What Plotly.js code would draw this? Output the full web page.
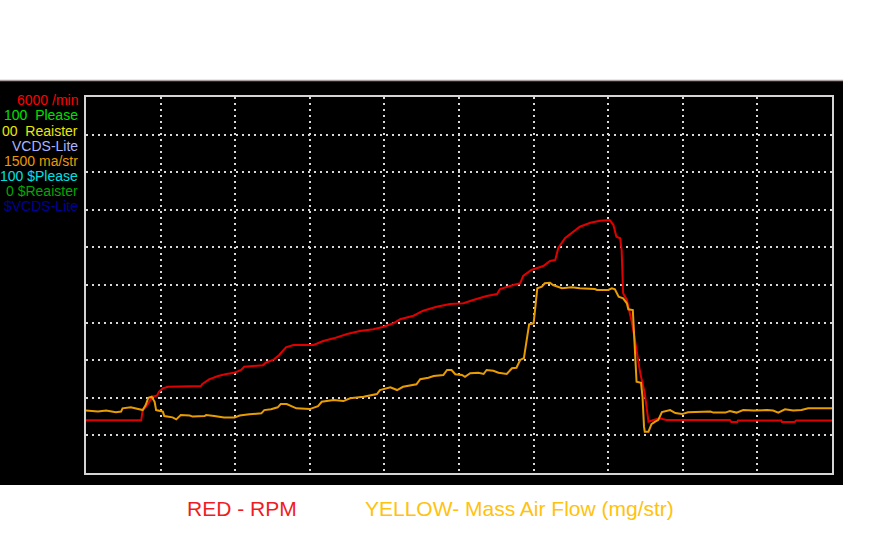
<!DOCTYPE html>
<html>
<head>
<meta charset="utf-8">
<script src="https://cdn.plot.ly/plotly-3.0.1.min.js"></script>
<style>
  html, body { margin: 0; padding: 0; background: #ffffff; }
  #chart { width: 890px; height: 548px; }
</style>
</head>
<body>
<div id="chart"></div>
<script>

// time axis in tenths of a division (0..100 across the window)
const rpmTime = [0, 7.4, 7.6, 8.0, 8.5, 8.9, 9.5, 9.8, 10.3, 11.0, 15.4, 15.6, 16.5, 17.7, 18.8, 19.9,
  20.8, 21.2, 23.7, 24.1, 25.2, 25.9, 26.8, 27.8, 30.5, 31.8, 33.2, 35.0, 36.7, 38.5, 39.9,
  41.2, 42.1, 43.9, 45.2, 47.0, 48.8, 50.6, 51.9, 53.7, 55.1, 55.5, 57.3, 58.2, 58.6, 59.7,
  61.3, 62.2, 62.9, 63.3, 64.2, 65.1, 66.2, 67.6, 68.9, 70.2, 70.7, 71.1, 71.6, 71.8, 72.0,
  72.5, 73.2, 73.8, 74.3, 74.9, 75.4, 76.1, 76.9, 77.8, 86.3, 86.5, 87.3, 87.4, 93.2, 93.3,
  95.0, 95.2, 100];
const rpmValues = [840, 840, 1005, 1053, 1138, 1218, 1233, 1297, 1352, 1377, 1388, 1420, 1495, 1548, 1580, 1600,
  1644, 1696, 1719, 1760, 1814, 1883, 2006, 2042, 2042, 2106, 2149, 2218, 2266, 2293, 2334,
  2389, 2453, 2510, 2590, 2654, 2697, 2708, 2761, 2824, 2856, 2936, 3000, 3027, 3144, 3239,
  3303, 3383, 3399, 3586, 3745, 3825, 3930, 3994, 4026, 4037, 3957, 3771, 3745, 3558, 2867,
  2761, 2389, 1963, 1591, 1272, 819, 846, 873, 846, 846, 814, 814, 838, 838, 814,
  814, 838, 838];

const mafTime = [0, 1.6, 2.7, 4.0, 4.7, 4.9, 6.0, 7.1, 7.6, 8.0, 8.35, 8.8, 9.2, 9.4, 10.3, 10.5,
  11.6, 12.1, 12.7, 13.9, 14.3, 15.9, 16.1, 17.2, 18.5, 19.9, 20.6, 21.9, 23.5, 23.9, 24.8,
  25.7, 26.1, 26.9, 28.2, 30.0, 31.1, 31.6, 33.2, 34.5, 35.4, 37.2, 39.0, 39.4, 40.8, 41.7,
  42.5, 44.3, 44.8, 45.9, 46.6, 47.9, 48.4, 49.0, 49.5, 50.4, 50.8, 51.5, 52.6, 53.3, 53.7,
  54.6, 55.3, 56.4, 57.1, 57.7, 58.2, 58.7, 59.1, 59.4, 60.0, 60.2, 60.5, 61.1, 61.5, 62.2,
  62.6, 63.8, 65.1, 66.2, 68.2, 68.5, 70.0, 70.5, 70.9, 71.4, 72.0, 72.5, 72.7, 73.3, 73.4,
  73.6, 73.8, 74.4, 74.6, 74.8, 74.9, 75.4, 75.8, 76.3, 76.7, 77.2, 78.3, 79.0, 79.9, 80.7,
  83.7, 84.1, 85.7, 86.3, 87.2, 88.1, 89.5, 91.3, 92.1, 92.8, 93.7, 94.8, 95.9, 96.8, 100];
const mafValues = [249, 245, 249, 242, 245, 258, 262, 255, 251, 271, 300, 304, 284, 251, 245, 227,
  222, 214, 231, 229, 225, 227, 231, 227, 221, 221, 229, 234, 238, 251, 254,
  262, 275, 275, 258, 255, 267, 284, 291, 287, 298, 304, 315, 331, 342, 331,
  344, 354, 374, 380, 387, 391, 411, 411, 394, 391, 384, 398, 400, 395, 411,
  408, 400, 395, 418, 420, 451, 458, 531, 593, 597, 663, 737, 743, 757, 759,
  750, 737, 741, 737, 734, 730, 730, 737, 733, 703, 697, 677, 653, 650, 597,
  497, 364, 360, 304, 185, 165, 165, 195, 205, 211, 243, 251, 239, 235, 242,
  245, 241, 241, 247, 241, 251, 249, 251, 249, 241, 254, 249, 251, 258, 258];

const scaleLabels = ["6000 /min", "100  Please", "00  Reaister", "VCDS-Lite",
  "1500 ma/str", "100 $Please", "0 $Reaister", "$VCDS-Lite"];
const scaleColors = ["#ff0000", "#00e000", "#e8e800", "#a8b4ff",
  "#e89a00", "#00e0e0", "#00a800", "#000098"];

const legendLabels = ["RED - RPM", "YELLOW- Mass Air Flow (mg/str)"];

/* ------------------------------ geometry ------------------------------ */

const PLOT = { l: 86, r: 832, t: 97, b: 473 };
const plotW = PLOT.r - PLOT.l;
const plotH = PLOT.b - PLOT.t;
const px = (x) => (x - PLOT.l) / plotW;
const py = (y) => (PLOT.b - y) / plotH;

const traces = [
  {
    type: "scatter",
    mode: "lines",
    name: "RPM",
    x: rpmTime,
    y: rpmValues,
    yaxis: "y",
    line: { color: "#e00000", width: 2 },
    hoverinfo: "skip",
  },
  {
    type: "scatter",
    mode: "lines",
    name: "MAF",
    x: mafTime,
    y: mafValues,
    yaxis: "y2",
    line: { color: "#e89c00", width: 2 },
    hoverinfo: "skip",
  },
];

const annotations = scaleLabels.map((txt, i) => ({
  xref: "paper",
  yref: "paper",
  x: px(80),
  y: py(100.5 + i * 15),
  xanchor: "right",
  yanchor: "middle",
  text: txt,
  showarrow: false,
  font: { family: "Liberation Sans, Arial, sans-serif", size: 14, color: scaleColors[i] },
}));

annotations.push(
  {
    xref: "paper", yref: "paper",
    x: px(241.5), y: py(508),
    xanchor: "center", yanchor: "middle",
    text: legendLabels[0], showarrow: false,
    font: { family: "Liberation Sans, Arial, sans-serif", size: 21, color: "#ee1c24" },
  },
  {
    xref: "paper", yref: "paper",
    x: px(519.5), y: py(508),
    xanchor: "center", yanchor: "middle",
    text: legendLabels[1], showarrow: false,
    font: { family: "Liberation Sans, Arial, sans-serif", size: 21, color: "#ffc20e" },
  }
);

const shapes = [
  {
    type: "rect", xref: "paper", yref: "paper", layer: "below",
    x0: px(0), x1: px(843), y0: py(485), y1: py(80),
    fillcolor: "#000000", line: { width: 0 },
  },
  {
    type: "line", xref: "paper", yref: "paper", layer: "below",
    x0: px(0), x1: px(843), y0: py(80.5), y1: py(80.5),
    line: { color: "#a89e9e", width: 1.5 },
  },
];

const gridAxis = {
  showticklabels: false,
  ticks: "",
  zeroline: false,
  showgrid: true,
  gridcolor: "#d8d8d8",
  gridwidth: 2,
  griddash: "2px,4px",
  showline: true,
  mirror: true,
  linecolor: "#d4d4d4",
  linewidth: 2,
  fixedrange: true,
};

const layout = {
  width: 890,
  height: 548,
  paper_bgcolor: "#ffffff",
  plot_bgcolor: "#000000",
  margin: { l: PLOT.l, r: 890 - PLOT.r, t: PLOT.t, b: 548 - PLOT.b, pad: 0 },
  showlegend: false,
  xaxis: Object.assign({}, gridAxis, { range: [0, 100], dtick: 10 }),
  yaxis: Object.assign({}, gridAxis, { range: [0, 6000], dtick: 600 }),
  yaxis2: {
    overlaying: "y",
    range: [0, 1500],
    visible: false,
    showgrid: false,
    fixedrange: true,
  },
  shapes: shapes,
  annotations: annotations,
};

Plotly.newPlot("chart", traces, layout, { displayModeBar: false, staticPlot: true });
</script>
</body>
</html>
